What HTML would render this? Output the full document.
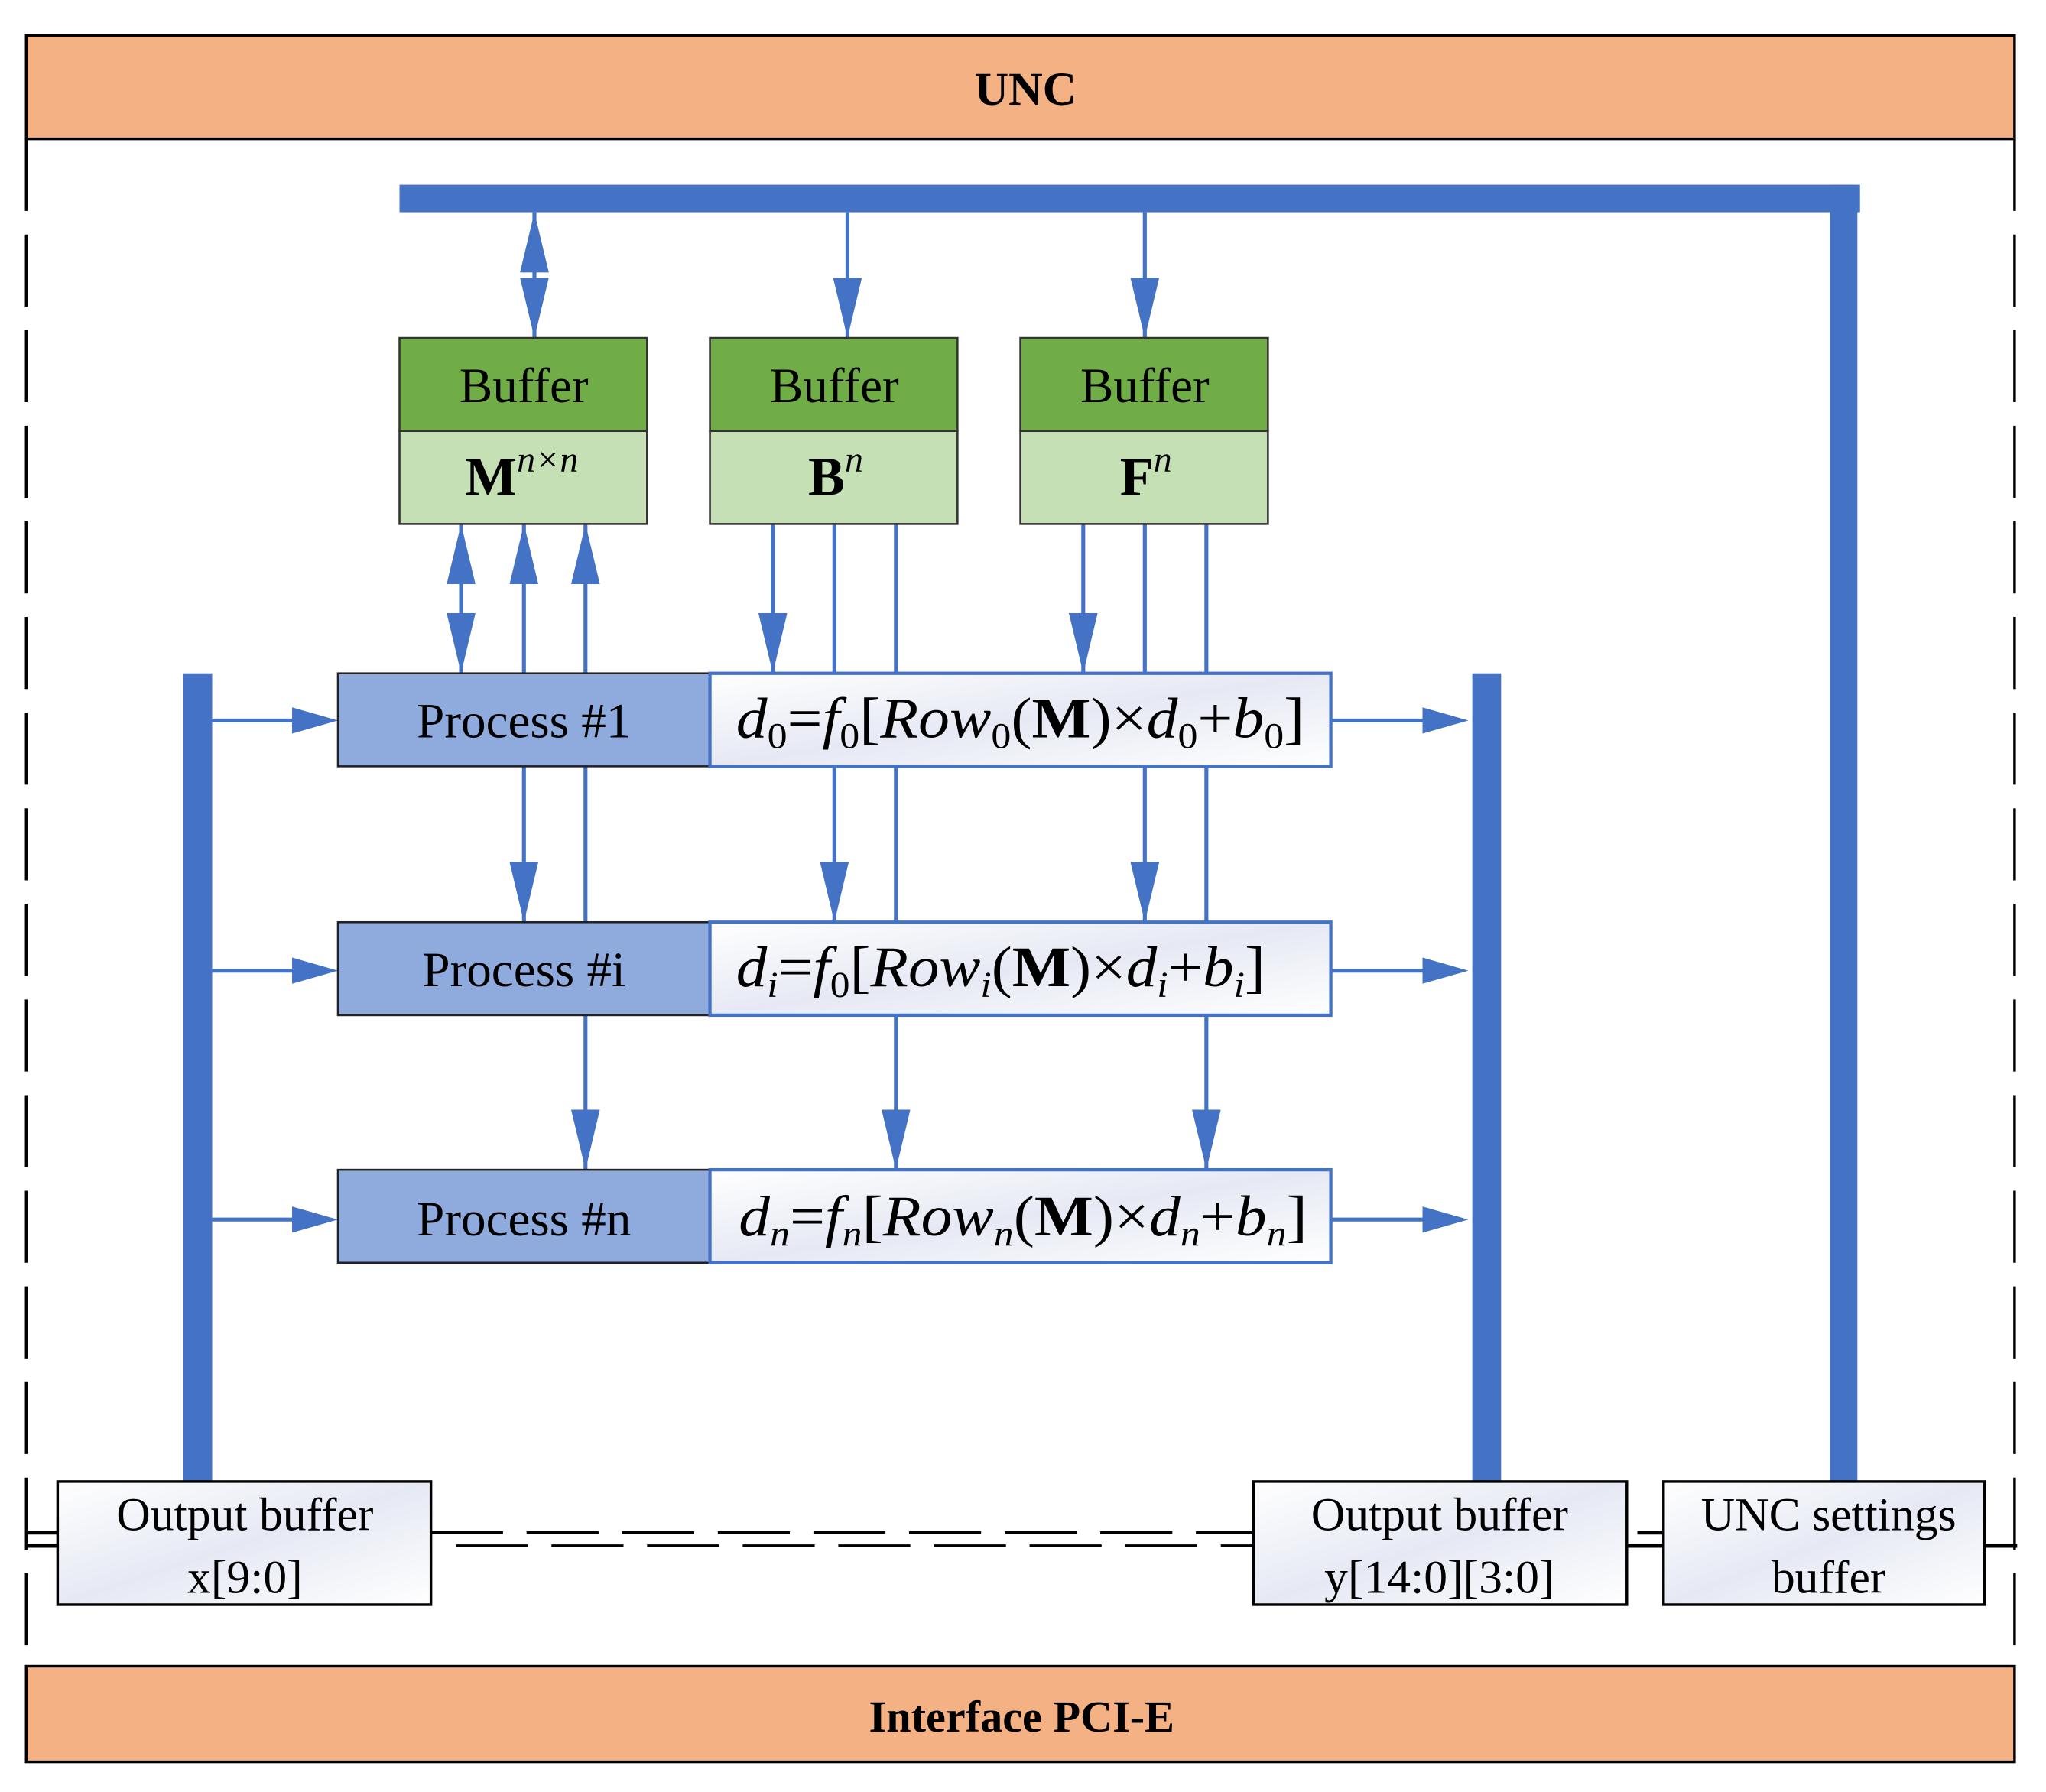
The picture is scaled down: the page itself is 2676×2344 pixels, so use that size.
<!DOCTYPE html>
<html><head><meta charset="utf-8"><style>
html,body{margin:0;padding:0;background:#fff;}
svg{display:block;}
text{font-family:"Liberation Serif",serif;fill:#000;}
</style></head><body>
<svg width="2676" height="2344" viewBox="0 0 1562 1368" preserveAspectRatio="none" xmlns="http://www.w3.org/2000/svg">
<defs>
<marker id="ad" viewBox="0 0 46 22" refX="46" refY="11" markerWidth="46" markerHeight="22" markerUnits="userSpaceOnUse" orient="auto-start-reverse"><path d="M0,0 L46,11 L0,22 Z" fill="#4472C4"/></marker>
<linearGradient id="g" x1="0" y1="0" x2="1" y2="1"><stop offset="0" stop-color="#fff"/><stop offset="0.5" stop-color="#e6e9f4"/><stop offset="1" stop-color="#fff"/></linearGradient>
</defs>
<g stroke="#000" stroke-width="2" stroke-dasharray="55,18" fill="none">
<line x1="20" y1="106" x2="20" y2="1272"/>
<line x1="1538" y1="106" x2="1538" y2="1272"/>
<line x1="329" y1="1170" x2="957" y2="1170"/>
<line x1="348" y1="1180" x2="957" y2="1180"/>
</g>
<g stroke="#000" stroke-width="3">
<line x1="20" y1="1170" x2="44" y2="1170"/><line x1="20" y1="1180" x2="44" y2="1180"/>
<line x1="1242" y1="1180" x2="1270" y2="1180"/><line x1="1250" y1="1170" x2="1270" y2="1170"/>
<line x1="1515" y1="1180" x2="1540" y2="1180"/>
</g>
<rect x="20" y="27" width="1518" height="79" fill="#F4B183" stroke="#000" stroke-width="2"/>
<text x="783" y="80" font-size="36" font-weight="bold" text-anchor="middle">UNC</text>
<rect x="20" y="1272" width="1518" height="73" fill="#F4B183" stroke="#000" stroke-width="2"/>
<text x="780" y="1322" font-size="34" font-weight="bold" text-anchor="middle">Interface PCI-E</text>
<g fill="#4472C4">
<rect x="305" y="141" width="1115" height="21"/>
<rect x="1397" y="141" width="21" height="990"/>
<rect x="140" y="514" width="22" height="617"/>
<rect x="1124" y="514" width="22" height="617"/>
</g>
<g stroke="#4472C4" stroke-width="3" fill="none">
<line x1="408" y1="162" x2="408" y2="258" marker-start="url(#ad)" marker-end="url(#ad)"/>
<line x1="647" y1="162" x2="647" y2="258" marker-end="url(#ad)"/>
<line x1="874" y1="162" x2="874" y2="258" marker-end="url(#ad)"/>
<line x1="352" y1="400" x2="352" y2="514" marker-start="url(#ad)" marker-end="url(#ad)"/>
<line x1="400" y1="514" x2="400" y2="400" marker-end="url(#ad)"/>
<line x1="447" y1="514" x2="447" y2="400" marker-end="url(#ad)"/>
<line x1="590" y1="400" x2="590" y2="514" marker-end="url(#ad)"/>
<line x1="637" y1="400" x2="637" y2="514"/>
<line x1="684" y1="400" x2="684" y2="514"/>
<line x1="827" y1="400" x2="827" y2="514" marker-end="url(#ad)"/>
<line x1="874" y1="400" x2="874" y2="514"/>
<line x1="921" y1="400" x2="921" y2="514"/>
<line x1="400" y1="585" x2="400" y2="704" marker-end="url(#ad)"/>
<line x1="447" y1="585" x2="447" y2="704"/>
<line x1="637" y1="585" x2="637" y2="704" marker-end="url(#ad)"/>
<line x1="684" y1="585" x2="684" y2="704"/>
<line x1="874" y1="585" x2="874" y2="704" marker-end="url(#ad)"/>
<line x1="921" y1="585" x2="921" y2="704"/>
<line x1="447" y1="775" x2="447" y2="893" marker-end="url(#ad)"/>
<line x1="684" y1="775" x2="684" y2="893" marker-end="url(#ad)"/>
<line x1="921" y1="775" x2="921" y2="893" marker-end="url(#ad)"/>
</g>
<g stroke="#4472C4" stroke-width="3">
<line x1="162" y1="550" x2="225" y2="550"/><line x1="162" y1="741" x2="225" y2="741"/><line x1="162" y1="931" x2="225" y2="931"/>
<line x1="1016" y1="550" x2="1088" y2="550"/><line x1="1016" y1="741" x2="1088" y2="741"/><line x1="1016" y1="931" x2="1088" y2="931"/>
</g>
<g fill="#4472C4">
<path d="M223,540 L258,550 L223,560Z"/><path d="M223,731 L258,741 L223,751Z"/><path d="M223,921 L258,931 L223,941Z"/>
<path d="M1086,540 L1121,550 L1086,560Z"/><path d="M1086,731 L1121,741 L1086,751Z"/><path d="M1086,921 L1121,931 L1086,941Z"/>
</g>
<g stroke="#333" stroke-width="1.5">
<rect x="305" y="258" width="189" height="71" fill="#70AD47"/><rect x="305" y="329" width="189" height="71" fill="#C5E0B4"/>
<rect x="542" y="258" width="189" height="71" fill="#70AD47"/><rect x="542" y="329" width="189" height="71" fill="#C5E0B4"/>
<rect x="779" y="258" width="189" height="71" fill="#70AD47"/><rect x="779" y="329" width="189" height="71" fill="#C5E0B4"/>
</g>
<g font-size="38" text-anchor="middle">
<text x="400" y="307">Buffer</text><text x="637" y="307">Buffer</text><text x="874" y="307">Buffer</text>
</g>
<text x="355" y="378" font-size="42" font-weight="bold">M<tspan font-weight="normal" font-style="italic" font-size="28" dy="-18">n×n</tspan></text>
<text x="617" y="378" font-size="42" font-weight="bold">B<tspan font-weight="normal" font-style="italic" font-size="28" dy="-18">n</tspan></text>
<text x="855" y="378" font-size="42" font-weight="bold">F<tspan font-weight="normal" font-style="italic" font-size="28" dy="-18">n</tspan></text>
<g>
<rect x="258" y="514" width="284" height="71" fill="#8FAADC" stroke="#222" stroke-width="1.5"/>
<rect x="258" y="704" width="284" height="71" fill="#8FAADC" stroke="#222" stroke-width="1.5"/>
<rect x="258" y="893" width="284" height="71" fill="#8FAADC" stroke="#222" stroke-width="1.5"/>
<rect x="542" y="514" width="474" height="71" fill="url(#g)" stroke="#4472C4" stroke-width="2.5"/>
<rect x="542" y="704" width="474" height="71" fill="url(#g)" stroke="#4472C4" stroke-width="2.5"/>
<rect x="542" y="893" width="474" height="71" fill="url(#g)" stroke="#4472C4" stroke-width="2.5"/>
</g>
<g font-size="38" text-anchor="middle">
<text x="400" y="563">Process #1</text><text x="400" y="753">Process #i</text><text x="400" y="943">Process #n</text>
</g>
<g font-size="44">
<text x="562" y="563" textLength="434" lengthAdjust="spacingAndGlyphs"><tspan font-style="italic">d</tspan><tspan font-size="28" dy="8">0</tspan><tspan dy="-8">=</tspan><tspan font-style="italic">f</tspan><tspan font-size="28" dy="8">0</tspan><tspan dy="-8">[</tspan><tspan font-style="italic">Row</tspan><tspan font-size="28" dy="8">0</tspan><tspan dy="-8">(</tspan><tspan font-weight="bold">M</tspan>)×<tspan font-style="italic">d</tspan><tspan font-size="28" dy="8">0</tspan><tspan dy="-8">+</tspan><tspan font-style="italic">b</tspan><tspan font-size="28" dy="8">0</tspan><tspan dy="-8">]</tspan></text>
<text x="562" y="753" textLength="404" lengthAdjust="spacingAndGlyphs"><tspan font-style="italic">d</tspan><tspan font-size="28" dy="8" font-style="italic">i</tspan><tspan dy="-8">=</tspan><tspan font-style="italic">f</tspan><tspan font-size="28" dy="8">0</tspan><tspan dy="-8">[</tspan><tspan font-style="italic">Row</tspan><tspan font-size="28" dy="8" font-style="italic">i</tspan><tspan dy="-8">(</tspan><tspan font-weight="bold">M</tspan>)×<tspan font-style="italic">d</tspan><tspan font-size="28" dy="8" font-style="italic">i</tspan><tspan dy="-8">+</tspan><tspan font-style="italic">b</tspan><tspan font-size="28" dy="8" font-style="italic">i</tspan><tspan dy="-8">]</tspan></text>
<text x="564" y="943" textLength="434" lengthAdjust="spacingAndGlyphs"><tspan font-style="italic">d</tspan><tspan font-size="28" dy="8" font-style="italic">n</tspan><tspan dy="-8">=</tspan><tspan font-style="italic">f</tspan><tspan font-size="28" dy="8" font-style="italic">n</tspan><tspan dy="-8">[</tspan><tspan font-style="italic">Row</tspan><tspan font-size="28" dy="8" font-style="italic">n</tspan><tspan dy="-8">(</tspan><tspan font-weight="bold">M</tspan>)×<tspan font-style="italic">d</tspan><tspan font-size="28" dy="8" font-style="italic">n</tspan><tspan dy="-8">+</tspan><tspan font-style="italic">b</tspan><tspan font-size="28" dy="8" font-style="italic">n</tspan><tspan dy="-8">]</tspan></text>
</g>
<g fill="url(#g)" stroke="#000" stroke-width="2">
<rect x="44" y="1131" width="285" height="94"/>
<rect x="957" y="1131" width="285" height="94"/>
<rect x="1270" y="1131" width="245" height="94"/>
</g>
<g font-size="36" text-anchor="middle">
<text x="187" y="1168">Output buffer</text><text x="187" y="1216">x[9:0]</text>
<text x="1099" y="1168">Output buffer</text><text x="1099" y="1216">y[14:0][3:0]</text>
<text x="1396" y="1168">UNC settings</text><text x="1396" y="1216">buffer</text>
</g>
</svg>
</body></html>
